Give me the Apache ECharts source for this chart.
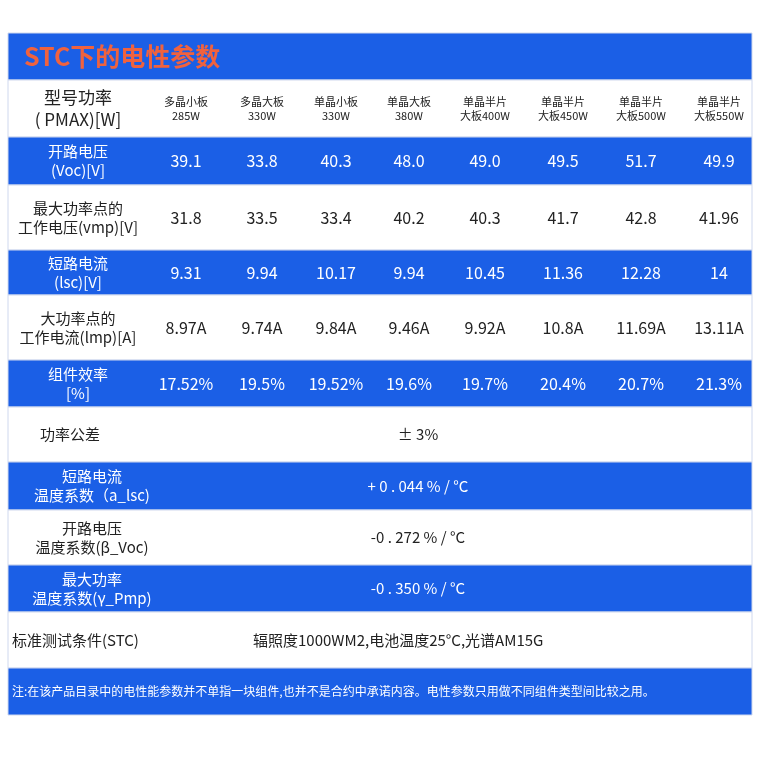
<!DOCTYPE html>
<html>
<head>
<meta charset="utf-8">
<script src="https://cdn.jsdelivr.net/npm/echarts@6/dist/echarts.min.js"></script>
<style>html,body{margin:0;padding:0;background:#fff}#main{width:760px;height:760px}</style>
</head>
<body>
<div id="main"></div>
<script>
// 表格内容
const title = 'STC下的电性参数';
const models = ['多晶小板\n285W', '多晶大板\n330W', '单晶小板\n330W', '单晶大板\n380W',
  '单晶半片\n大板400W', '单晶半片\n大板450W', '单晶半片\n大板500W', '单晶半片\n大板550W'];
const rowLabels = ['型号功率\n( PMAX)[W]', '开路电压\n(Voc)[V]', '最大功率点的\n工作电压(vmp)[V]',
  '短路电流\n(lsc)[V]', '大功率点的\n工作电流(lmp)[A]', '组件效率\n[%]', '功率公差',
  '短路电流\n温度系数（a_lsc)', '开路电压\n温度系数(β_Voc)', '最大功率\n温度系数(γ_Pmp)', '标准测试条件(STC)'];
const voc = ['39.1', '33.8', '40.3', '48.0', '49.0', '49.5', '51.7', '49.9'];
const vmp = ['31.8', '33.5', '33.4', '40.2', '40.3', '41.7', '42.8', '41.96'];
const isc = ['9.31', '9.94', '10.17', '9.94', '10.45', '11.36', '12.28', '14'];
const imp = ['8.97A', '9.74A', '9.84A', '9.46A', '9.92A', '10.8A', '11.69A', '13.11A'];
const eff = ['17.52%', '19.5%', '19.52%', '19.6%', '19.7%', '20.4%', '20.7%', '21.3%'];
const sharedValues = ['± 3%', '+ 0 . 044 % / °C', '-0 . 272 % / °C', '-0 . 350 % / °C',
  '辐照度1000WM2,电池温度25°C,光谱AM15G'];
const note = '注:在该产品目录中的电性能参数并不单指一块组件,也并不是合约中承诺内容。电性参数只用做不同组件类型间比较之用。';

// 版式 (像素)
const rowTops = [33, 80, 137, 185, 250, 295, 360, 407, 462, 510, 565, 612, 668, 715];
const colLefts = [148, 224, 300, 372, 446, 524, 602, 680, 758];
const BLUE = '#1b5fe6';

let chart = echarts.init(document.getElementById('main'));

// 行背景: 0 标题, 1..11 数据行, 12 注释
let rowData = [];
for (let r = 0; r < rowTops.length - 1; r++) {
  rowData.push([r, r === 0 || r === 12 || r % 2 === 0 ? 1 : 0]);
}

// 单元格: [行, 列(-1=标签, 8=合并), 文字]
let cellData = [];
rowLabels.forEach((t, i) => cellData.push([i + 1, -1, t]));
[models, voc, vmp, isc, imp, eff].forEach((arr, i) => {
  arr.forEach((t, c) => cellData.push([i + 1, c, t]));
});
sharedValues.forEach((t, i) => cellData.push([i + 7, 8, t]));

function rowRect(api, r) {
  let p0 = api.coord([8, rowTops[r]]);
  let p1 = api.coord([752, rowTops[r + 1]]);
  return { x: p0[0], y: p0[1], width: p1[0] - p0[0], height: p1[1] - p0[1] };
}

chart.setOption({
  animation: false,
  grid: { left: 0, right: 0, top: 0, bottom: 0 },
  xAxis: { type: 'value', min: 0, max: 760, show: false },
  yAxis: { type: 'value', min: 0, max: 760, inverse: true, show: false },
  series: [
    {
      type: 'custom',
      data: rowData,
      renderItem: (params, api) => {
        let r = api.value(0);
        let blue = api.value(1) === 1;
        let rect = rowRect(api, r);
        let children = [{
          type: 'rect', shape: rect,
          style: { fill: blue ? BLUE : '#fff', stroke: '#cfd8ee', lineWidth: 1 }
        }];
        if (r === 0) {
          children.push({ type: 'text', style: {
            text: title, x: rect.x + 16, y: rect.y + rect.height / 2, verticalAlign: 'middle',
            fill: '#f0623e', font: 'bold 25px "Noto Sans CJK SC"' } });
        }
        if (r === 12) {
          children.push({ type: 'text', style: {
            text: note, x: rect.x + 4, y: rect.y + rect.height / 2, verticalAlign: 'middle',
            fill: '#fff', font: '12px "Noto Sans CJK SC"' } });
        }
        return { type: 'group', children: children };
      }
    },
    {
      type: 'custom',
      data: cellData,
      renderItem: (params, api) => {
        let r = api.value(0);
        let c = api.value(1);
        let text = cellData[params.dataIndex][2];
        let top = api.coord([0, rowTops[r]])[1];
        let bot = api.coord([0, rowTops[r + 1]])[1];
        let blue = r % 2 === 0;
        let fill = blue ? '#fff' : '#222';
        let y = (top + bot) / 2;
        let x, align = 'center', font = '16px "Noto Sans CJK SC"', lh = 19;
        if (c === -1) {
          x = api.coord([78, 0])[0];
          font = '15px "Noto Sans CJK SC"';
          if (r >= 8 && r <= 10) x = api.coord([92, 0])[0];
          if (r === 7) x = api.coord([70, 0])[0];
          if (r === 11) { x = api.coord([12, 0])[0]; align = 'left'; }
          if (r === 1) { font = '17px "Noto Sans CJK SC"'; lh = 22; }
        } else if (c === 8) {
          x = api.coord([418, 0])[0];
          font = '15px "Noto Sans CJK SC"';
          if (r === 11) { x = api.coord([253, 0])[0]; align = 'left'; }
        } else {
          x = api.coord([(colLefts[c] + colLefts[c + 1]) / 2, 0])[0];
          if (r === 1) { font = '11px "Noto Sans CJK SC"'; lh = 14; }
        }
        return {
          type: 'text',
          style: { text: text, x: x, y: y, align: align, verticalAlign: 'middle',
            fill: fill, font: font, lineHeight: lh }
        };
      }
    }
  ]
});
</script>
</body>
</html>
